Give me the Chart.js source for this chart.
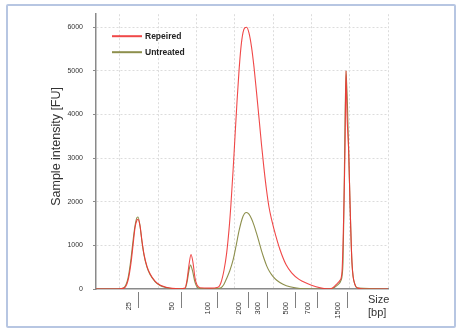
<!DOCTYPE html>
<html>
<head>
<meta charset="utf-8">
<script src="https://cdn.jsdelivr.net/npm/chart.js@4.4.0/dist/chart.umd.min.js"></script>
<style>
  html, body { margin: 0; padding: 0; background: #fff; }
  #wrap { position: relative; width: 460px; height: 331px; }
  #frame {
    position: absolute; left: 6px; top: 4px; width: 446px; height: 320px;
    border: 2px solid #b7c6e2; border-radius: 2px; pointer-events: none;
  }
</style>
</head>
<body>
<div id="wrap">
  <canvas id="chart" width="460" height="331"></canvas>
  <div id="frame"></div>
</div>
<script>
'use strict';

// migration time (s) and fluorescence (FU)
var repairedTime = [16.9, 19.77, 20.55, 21.08, 21.47, 21.73, 21.99, 22.25, 22.38, 22.64, 22.9, 23.16, 23.55, 23.95, 24.6, 25.25, 26.03, 26.82, 27.86,
  28.51, 28.77, 29.03, 29.3, 29.56, 29.82, 30.08, 30.47, 31.77, 32.82,
  33.21, 33.6, 33.93, 34.25, 34.51, 34.78, 35.04, 35.3, 35.56, 35.82, 36.08, 36.32, 36.56,
  36.86, 37.19, 37.52, 37.84, 38.17, 38.49, 38.82, 39.15, 39.47, 39.83, 40.39, 40.91, 41.69, 42.43, 43.39, 44.39, 45.61, 46.65, 47.43,
  47.82, 48.35, 48.74, 49.0, 49.26, 49.39, 49.52, 49.65, 49.87, 50.04, 50.3, 50.69, 51.09, 52.0, 55.0];
var repairedFU = [0, 0, 20, 200, 600, 1000, 1400, 1580, 1600, 1450, 1100, 800, 520, 350, 180, 90, 40, 15, 5,
  20, 200, 550, 790, 600, 250, 90, 30, 20, 40,
  150, 430, 800, 1350, 1950, 2700, 3500, 4300, 5000, 5550, 5880, 5990, 6000,
  5870, 5550, 5080, 4520, 3920, 3320, 2760, 2270, 1880, 1580, 1200, 900, 560, 370, 220, 130, 50, 10, 5,
  30, 120, 200, 400, 2000, 3150, 5000, 4000, 3150, 2000, 600, 100, 20, 0, 0];

var untreatedTime = [16.9, 20.03, 20.55, 21.08, 21.47, 21.73, 21.99, 22.25, 22.38, 22.64, 22.9, 23.16, 23.55, 23.95, 24.6, 25.25, 26.03, 26.82,
  28.51, 28.77, 29.03, 29.23, 29.49, 29.82, 30.08, 30.47, 32.43,
  33.21, 33.6, 33.99, 34.38, 34.78, 35.17, 35.56, 35.95, 36.28, 36.57,
  36.86, 37.19, 37.52, 37.84, 38.17, 38.49, 38.82, 39.17, 39.54, 39.93, 40.48, 41.3, 42.21, 43.52, 47.43,
  47.95, 48.48, 48.87, 49.13, 49.26, 49.52, 49.87, 50.04, 50.3, 50.69, 51.09, 55.0];
var untreatedFU = [0, 0, 30, 250, 700, 1100, 1450, 1640, 1650, 1450, 1080, 780, 500, 330, 170, 80, 35, 10,
  10, 150, 420, 550, 420, 150, 50, 10, 5,
  30, 110, 260, 430, 660, 980, 1330, 1600, 1730, 1755,
  1715, 1610, 1460, 1280, 1080, 880, 700, 530, 400, 300, 200, 110, 50, 12, 0,
  30, 100, 200, 600, 2000, 5000, 3150, 2000, 600, 100, 20, 0];

var seriesNames = ['Repeired', 'Untreated'];
var seriesColors = ['rgba(238, 52, 52, 0.9)', '#8d8f4c'];

// ladder sizes (bp) and where they sit on the time axis
var sizeLabels = ['25', '50', '100', '200', '300', '500', '700', '1500'];
var sizeTimes = [22.42, 27.99, 32.65, 36.67, 39.15, 42.93, 45.7, 49.61];

var yTicks = [0, 1000, 2000, 3000, 4000, 5000, 6000];
var xGrid = [20, 25, 30, 35, 40, 45, 50, 55];

function toPoints(xs, ys) {
  var pts = [];
  for (var i = 0; i < xs.length; i++) pts.push({ x: xs[i], y: ys[i] });
  return pts;
}

var FONT = '"Liberation Sans", Arial, sans-serif';

// ladder labels, "Size [bp]" and the legend box
var overlayPlugin = {
  id: 'overlay',
  afterDraw: function (chart) {
    var ctx = chart.ctx;
    var xs = chart.scales.x;
    var area = chart.chartArea;
    ctx.save();

    // ladder ticks + rotated labels
    ctx.strokeStyle = '#808080';
    ctx.lineWidth = 1;
    ctx.fillStyle = '#333';
    ctx.font = '7.5px ' + FONT;
    for (var i = 0; i < sizeLabels.length; i++) {
      var px = Math.round(xs.getPixelForValue(sizeTimes[i])) + 0.5;
      ctx.beginPath();
      ctx.moveTo(px, area.bottom + 3);
      ctx.lineTo(px, area.bottom + 19);
      ctx.stroke();
      ctx.save();
      ctx.translate(px - 9.5, area.bottom + 13);
      ctx.rotate(-Math.PI / 2);
      ctx.textAlign = 'right';
      ctx.textBaseline = 'middle';
      ctx.fillText(sizeLabels[i], 0, 0);
      ctx.restore();
    }

    ctx.font = '11px ' + FONT;
    ctx.textAlign = 'left';
    ctx.textBaseline = 'middle';
    ctx.fillText('Size', area.right - 20, area.bottom + 11);
    ctx.fillText('[bp]', area.right - 20, area.bottom + 24);

    // legend
    ctx.font = 'bold 8.5px ' + FONT;
    for (var k = 0; k < seriesNames.length; k++) {
      var ly = area.top + 22 + k * 16;
      ctx.strokeStyle = seriesColors[k];
      ctx.lineWidth = 2;
      ctx.beginPath();
      ctx.moveTo(area.left + 16, ly);
      ctx.lineTo(area.left + 46, ly);
      ctx.stroke();
      ctx.fillStyle = '#222';
      ctx.fillText(seriesNames[k], area.left + 49, ly);
    }
    ctx.restore();
  }
};

new Chart(document.getElementById('chart'), {
  type: 'line',
  data: {
    datasets: [{
      label: seriesNames[0],
      data: toPoints(repairedTime, repairedFU),
      borderColor: seriesColors[0],
      borderWidth: 1.1,
      pointRadius: 0,
      cubicInterpolationMode: 'monotone',
      fill: false
    }, {
      label: seriesNames[1],
      data: toPoints(untreatedTime, untreatedFU),
      borderColor: seriesColors[1],
      borderWidth: 1.1,
      pointRadius: 0,
      cubicInterpolationMode: 'monotone',
      fill: false
    }]
  },
  options: {
    responsive: false,
    animation: false,
    devicePixelRatio: 1,
    layout: { padding: { left: 0, top: 11, right: 72, bottom: 0 } },
    plugins: {
      legend: { display: false },
      tooltip: { enabled: false }
    },
    scales: {
      x: {
        type: 'linear',
        min: 16.9,
        max: 55,
        afterBuildTicks: function (scale) {
          scale.ticks = xGrid.map(function (v) { return { value: v }; });
        },
        afterFit: function (scale) { scale.height = 42; },
        ticks: { display: false },
        grid: {
          color: '#dcdcdc',
          lineWidth: 1,
          drawTicks: false
        },
        border: { color: '#8a8a8a', width: 1.5, dash: [2, 2] }
      },
      y: {
        min: 0,
        max: 6300,
        afterBuildTicks: function (scale) {
          scale.ticks = yTicks.map(function (v) { return { value: v }; });
        },
        afterFit: function (scale) { scale.width = 96; },
        ticks: {
          color: '#333',
          font: { family: FONT, size: 7 },
          padding: 10,
          callback: function (v) { return String(v); }
        },
        grid: {
          color: function (c) { return c.tick && c.tick.value === 0 ? 'rgba(0,0,0,0)' : '#dcdcdc'; },
          tickColor: '#8a8a8a',
          tickLength: 3
        },
        border: { color: '#8a8a8a', width: 1.5, dash: [2, 2] },
        title: {
          display: true,
          text: '   Sample intensity [FU]',
          color: '#333',
          font: { family: FONT, size: 12.5 },
          padding: { top: 49, bottom: 0 }
        }
      }
    }
  },
  plugins: [overlayPlugin]
});
</script>
</body>
</html>
